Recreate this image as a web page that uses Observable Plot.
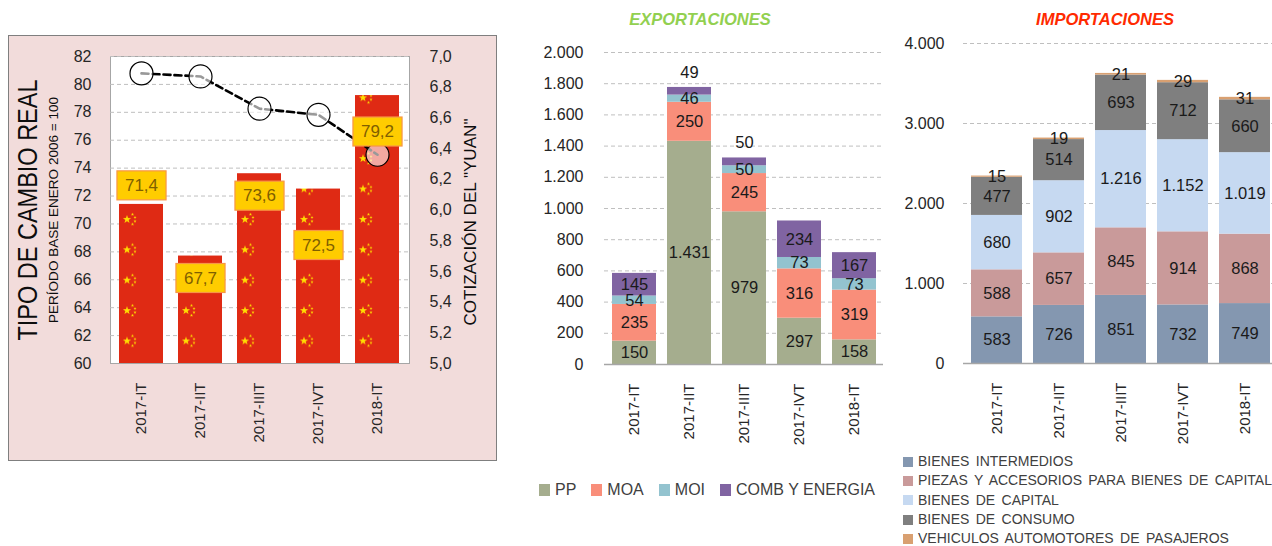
<!DOCTYPE html>
<html><head><meta charset="utf-8">
<script src="https://cdn.jsdelivr.net/npm/d3@7"></script>
<script src="https://cdn.jsdelivr.net/npm/@observablehq/plot@0.6"></script>
<style>
body{margin:0;background:#fff;font-family:"Liberation Sans",Arial,sans-serif;}
#root{position:relative;width:1272px;height:546px;overflow:hidden;background:#fff;}
.abs{position:absolute;}
.title{font-weight:bold;font-style:italic;font-size:16.5px;text-align:center;}
.leg{display:flex;align-items:center;color:#404040;white-space:nowrap;}
.sw{display:inline-block;}
</style></head><body><div id="root"></div>
<script>
// ---------- DATA ----------
const quarters = ["2017-IT","2017-IIT","2017-IIIT","2017-IVT","2018-IT"];
const tcr = [71.4, 67.7, 73.6, 72.5, 79.2];           // Tipo de cambio real
const yuan = [6.89, 6.87, 6.66, 6.62, 6.36];          // Cotización del yuan
const leftTicks = [60,62,64,66,68,70,72,74,76,78,80,82];
const yuanTicks = [5.0,5.2,5.4,5.6,5.8,6.0,6.2,6.4,6.6,6.8,7.0];

const expSeries = ["PP","MOA","MOI","COMB Y ENERGIA"];
const expPP   = [150, 1431, 979, 297, 158];
const expMOA  = [235, 250, 245, 316, 319];
const expMOI  = [54, 46, 50, 73, 73];
const expCOMB = [145, 49, 50, 234, 167];
const expTicks = [0,200,400,600,800,1000,1200,1400,1600,1800,2000];

const impSeries = ["BIENES INTERMEDIOS","PIEZAS Y ACCESORIOS PARA BIENES DE CAPITAL","BIENES DE CAPITAL","BIENES DE CONSUMO","VEHICULOS AUTOMOTORES DE PASAJEROS"];
const impBI  = [583, 726, 851, 732, 749];
const impPZ  = [588, 657, 845, 914, 868];
const impBK  = [680, 902, 1216, 1152, 1019];
const impBC  = [477, 514, 693, 712, 660];
const impVEH = [15, 19, 21, 29, 31];
const impTicks = [0,1000,2000,3000,4000];

// ---------- STYLE ----------
const expColors = ["#a5ad8e","#f98e7a","#93c3cf","#8064a2"];
const impColors = ["#8497b0","#c99a9a","#c6d9f1","#7f7f7f","#d9a071"];
const labelShiftPx = [-19, 22, 22, 56, 36]; // label box offsets from bar top (px)
const FONT = "Liberation Sans, Arial, sans-serif";

const loc = d3.formatLocale({decimal:",", thousands:".", grouping:[3], currency:["",""]});
const fmt1 = loc.format(".1f");
const fmtK = loc.format(",.0f");

const root = document.getElementById("root");
function addDiv(css, html, cls) {
  const d = document.createElement("div");
  d.className = "abs " + (cls || "");
  Object.assign(d.style, css);
  if (html != null) d.innerHTML = html;
  root.appendChild(d);
  return d;
}

// ---------- LEFT PANEL ----------
addDiv({left:"8px", top:"35px", width:"489px", height:"426px", background:"#f2dcdb", border:"1px solid #7f7f7f", boxSizing:"border-box"});

const L = {w:505, h:465, ml:110, mr:96, mt:56, mb:102};
const pxPerUnit = (L.h - L.mt - L.mb) / (leftTicks[leftTicks.length-1] - leftTicks[0]);
const toPrimary = v => 60 + (v - 5) * 11;
const tc = quarters.map((q, i) => ({q, v: tcr[i], yp: toPrimary(yuan[i]), ly: tcr[i] - labelShiftPx[i] / pxPerUnit}));

const left = Plot.plot({
  width: L.w, height: L.h, marginLeft: L.ml, marginRight: L.mr, marginTop: L.mt, marginBottom: L.mb,
  style: {background: "transparent", fontFamily: FONT, overflow: "visible", color: "#262626"},
  x: {domain: quarters, paddingInner: 0.25, paddingOuter: 0.13, label: null},
  y: {domain: [60, 82], label: null},
  marks: [
    Plot.frame({fill: "white", stroke: "#a6a6a6"}),
    Plot.gridY(leftTicks.slice(1), {stroke: "#bfbfbf", strokeOpacity: 1, strokeDasharray: "4,3"}),
    Plot.barY(tc, {x: "q", y: "v", fill: "url(#cnflag)", clip: true}),
    Plot.axisY(leftTicks, {anchor: "left", tickSize: 0, tickPadding: 19, fontSize: 16, label: null}),
    Plot.axisY(yuanTicks.map(toPrimary), {anchor: "right", tickSize: 0, tickPadding: 20, fontSize: 16, label: null,
      tickFormat: d => fmt1((d - 60) / 11 + 5)}),
    Plot.axisX({tickRotate: -90, tickSize: 0, tickPadding: 19, fontSize: 15, label: null}),
    Plot.line(tc, {x: "q", y: "yp", stroke: "black", strokeWidth: 2.6, strokeDasharray: "7,4"}),
    Plot.dot(tc, {x: "q", y: "yp", r: 11.5, fill: "white", fillOpacity: 0.6, stroke: "black", strokeWidth: 1.2}),
    Plot.text(tc, {x: "q", y: "ly", text: d => fmt1(d.v), fill: "#7f5f00", fontSize: 17, className: "tclbl"})
  ]
});
left.classList.add("abs");
left.style.left = "0px"; left.style.top = "0px";
root.appendChild(left);

// flag pattern for bars
(function(){
  const xs = left.scale("x"), ys = left.scale("y");
  const step = xs.step, period = 30.4;
  const svg = d3.select(left);
  const defs = svg.insert("defs", ":first-child");
  const pat = defs.append("pattern").attr("id", "cnflag").attr("patternUnits", "userSpaceOnUse")
    .attr("x", xs.apply(quarters[0])).attr("y", ys.apply(60) - 22 - period / 2)
    .attr("width", step).attr("height", period);
  pat.append("rect").attr("width", step).attr("height", period).attr("fill", "#df2a14");
  function star(cx, cy, r) {
    const p = [];
    for (let k = 0; k < 10; k++) {
      const rr = k % 2 ? r * 0.4 : r, a = -Math.PI / 2 + k * Math.PI / 5;
      p.push([cx + rr * Math.cos(a), cy + rr * Math.sin(a)]);
    }
    return "M" + p.join("L") + "Z";
  }
  const c = period / 2;
  pat.append("path").attr("d", star(8, c, 4.3)).attr("fill", "#ffde00");
  [[13.5, c - 5], [16, c - 2], [16, c + 1.8], [13.5, c + 4.8]].forEach(([x, y]) =>
    pat.append("path").attr("d", star(x, y, 1.6)).attr("fill", "#ffde00"));

  // label boxes
  svg.selectAll("g.tclbl text").each(function(){
    const bb = this.getBBox();
    const r = document.createElementNS("http://www.w3.org/2000/svg", "rect");
    r.setAttribute("x", bb.x - 8); r.setAttribute("y", bb.y - 5);
    r.setAttribute("width", bb.width + 16); r.setAttribute("height", bb.height + 10);
    r.setAttribute("fill", "#ffcc00"); r.setAttribute("stroke", "#f79646"); r.setAttribute("stroke-width", "1.2");
    const t = this.getAttribute("transform"); if (t) r.setAttribute("transform", t);
    this.parentNode.insertBefore(r, this);
  });

  // titles
  const addText = (txt, x, y, size, len, color) => svg.append("text")
    .attr("transform", `translate(${x},${y}) rotate(-90)`).attr("text-anchor", "middle")
    .attr("dominant-baseline", "central").attr("font-size", size).attr("font-family", FONT)
    .attr("fill", color).attr("textLength", len).attr("lengthAdjust", "spacingAndGlyphs").text(txt);
  addText("TIPO DE CAMBIO REAL", 28, 210, 27, 261, "#0d0d0d");
  addText("PERÍODO BASE ENERO 2006 = 100", 53, 210, 13.5, 226, "#0d0d0d");
  addText('COTIZACIÓN DEL "YUAN"', 470, 222, 17, 207, "#0d0d0d");
})();

// ---------- STACK HELPER ----------
function buildStack(seriesNames, arrays) {
  const rows = [];
  quarters.forEach((q, i) => {
    let acc = 0;
    const total = arrays.reduce((s, a) => s + a[i], 0);
    arrays.forEach((a, k) => {
      rows.push({q, s: seriesNames[k], k, v: a[i], mid: acc + a[i] / 2, top: total});
      acc += a[i];
    });
  });
  return rows;
}

// ---------- EXPORTACIONES ----------
const expData = buildStack(expSeries, [expPP, expMOA, expMOI, expCOMB]);
const expAbove = expData.filter(d => d.k === 3 && d.v < 60);
const expInner = expData.filter(d => !(d.k === 3 && d.v < 60));

const exp = Plot.plot({
  width: 370, height: 546, marginLeft: 84, marginRight: 7, marginTop: 52, marginBottom: 182,
  style: {background: "transparent", fontFamily: FONT, overflow: "visible", color: "#262626"},
  x: {domain: quarters, paddingInner: 0.2, paddingOuter: 0.11, label: null},
  y: {domain: [0, 2000], label: null},
  color: {domain: expSeries, range: expColors},
  marks: [
    Plot.gridY(expTicks.slice(1), {stroke: "#bfbfbf", strokeOpacity: 1, strokeDasharray: "4,3"}),
    Plot.barY(expData, {x: "q", y: "v", fill: "s"}),
    Plot.ruleY([0], {stroke: "#a6a6a6", strokeWidth: 1.5}),
    Plot.axisY(expTicks, {tickSize: 0, tickPadding: 21, fontSize: 16, tickFormat: fmtK, label: null}),
    Plot.axisX({tickRotate: -90, tickSize: 0, tickPadding: 19, fontSize: 15, label: null}),
    Plot.text(expInner, {x: "q", y: "mid", text: d => fmtK(d.v), fontSize: 16.5, fill: "#1a1a1a"}),
    Plot.text(expAbove, {x: "q", y: "top", dy: -15, text: d => fmtK(d.v), fontSize: 16.5, fill: "#1a1a1a"})
  ]
});
exp.classList.add("abs");
exp.style.left = "520px"; exp.style.top = "0px";
root.appendChild(exp);

addDiv({left:"600px", top:"10px", width:"200px", color:"#92d050"}, "EXPORTACIONES", "title");

const expLeg = addDiv({left:"539px", top:"481px", fontSize:"16px"}, null, "leg");
expSeries.forEach((s, i) => {
  expLeg.insertAdjacentHTML("beforeend",
    `<span class="sw" style="width:11px;height:12px;background:${expColors[i]};margin-right:5px"></span><span style="margin-right:${i < 3 ? 15 : 0}px">${s}</span>`);
});

// ---------- IMPORTACIONES ----------
const impData = buildStack(impSeries, [impBI, impPZ, impBK, impBC, impVEH]);

const imp = Plot.plot({
  width: 398, height: 546, marginLeft: 83, marginRight: 0, marginTop: 43, marginBottom: 183,
  style: {background: "transparent", fontFamily: FONT, overflow: "visible", color: "#262626"},
  x: {domain: quarters, paddingInner: 0.18, paddingOuter: 0.11, label: null},
  y: {domain: [0, 4000], label: null},
  color: {domain: impSeries, range: impColors},
  marks: [
    Plot.gridY(impTicks.slice(1), {stroke: "#bfbfbf", strokeOpacity: 1, strokeDasharray: "4,3"}),
    Plot.barY(impData, {x: "q", y: "v", fill: "s"}),
    Plot.ruleY([0], {stroke: "#a6a6a6", strokeWidth: 1.5}),
    Plot.axisY(impTicks, {tickSize: 0, tickPadding: 19, fontSize: 16, tickFormat: fmtK, label: null}),
    Plot.axisX({tickRotate: -90, tickSize: 0, tickPadding: 19, fontSize: 15, label: null}),
    Plot.text(impData, {x: "q", y: "mid", text: d => fmtK(d.v), fontSize: 16.5, fill: "#1a1a1a"})
  ]
});
imp.classList.add("abs");
imp.style.left = "880px"; imp.style.top = "0px";
root.appendChild(imp);

addDiv({left:"1005px", top:"10px", width:"200px", color:"#ff2a00"}, "IMPORTACIONES", "title");

const impLeg = addDiv({left:"903px", top:"452px", fontSize:"14px", lineHeight:"19.3px", wordSpacing:"2.5px"}, null, "");
impSeries.forEach((s, i) => {
  impLeg.insertAdjacentHTML("beforeend",
    `<div class="leg"><span class="sw" style="width:10px;height:10px;background:${impColors[i]};margin-right:5px"></span><span>${s}</span></div>`);
});
</script></body></html>
